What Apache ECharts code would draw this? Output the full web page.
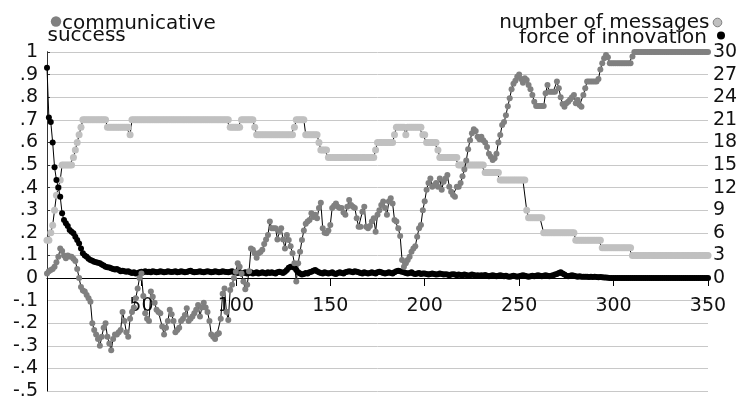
<!DOCTYPE html>
<html>
<head>
<meta charset="utf-8">
<script src="https://cdn.jsdelivr.net/npm/echarts@6/dist/echarts.min.js"></script>
<style>
  html, body { margin: 0; padding: 0; background: #fff; }
  #chart { width: 740px; height: 396px; }
</style>
</head>
<body>
<div id="chart"></div>
<script>
// Tick labels
const xTickLabels = ['', '50', '100', '150', '200', '250', '300', '350'];
const leftTickLabels = ['-.5', '-.4', '-.3', '-.2', '-.1', '0', '.1', '.2', '.3', '.4', '.5', '.6', '.7', '.8', '.9', '1'];

// Communicative success per round (left axis), rounds 0..350
const communicativeSuccess = [
  .02, .03, .035, .04, .05, .07, .094, .13, .12, .10,
  .087, .10, .095, .094, .085, .075, .04, .00, -.04, -.055,
  -.06, -.075, -.09, -.105, -.20, -.23, -.25, -.27, -.30, -.26,
  -.22, -.20, -.26, -.29, -.32, -.27, -.25, -.25, -.24, -.23,
  -.15, -.19, -.24, -.26, -.18, -.15, -.13, -.09, -.046, 0,
  .02, -.08, -.156, -.18, -.19, -.06, -.083, -.11, -.14, -.15,
  -.156, -.215, -.25, -.22, -.19, -.14, -.16, -.19, -.24, -.23,
  -.22, -.19, -.18, -.164, -.134, -.19, -.18, -.17, -.156, -.14,
  -.12, -.17, -.13, -.11, -.13, -.15, -.19, -.25, -.26, -.27,
  -.25, -.245, -.18, -.07, -.046, -.15, -.186, -.053, -.03, 0,
  .028, .065, .05, .02, -.016, -.05, -.03, .03, .13, .125,
  .11, .09, .11, .115, .125, .15, .17, .19, .25, .22,
  .22, .22, .17, .205, .22, .17, .13, .19, .168, .14,
  .11, .065, -.016, .065, .116, .168, .21, .24, .25, .257,
  .286, .27, .28, .264, .31, .333, .22, .20, .198, .21,
  .235, .31, .32, .33, .315, .31, .31, .29, .28, .315,
  .345, .323, .315, .31, .264, .227, .227, .293, .315, .227,
  .22, .23, .25, .264, .205, .28, .30, .323, .338, .31,
  .28, .338, .353, .33, .257, .25, .22, .186, .08, .05,
  .065, .08, .094, .116, .13, .14, .183, .22, .235, .30,
  .34, .39, .42, .44, .404, .41, .42, .404, .44, .39,
  .426, .44, .456, .404, .382, .367, .36, .404, .404, .42,
  .45, .48, .52, .57, .61, .64, .658, .65, .625, .614,
  .625, .61, .60, .58, .55, .537, .522, .53, .55, .60,
  .633, .677, .69, .72, .76, .795, .835, .86, .873, .89,
  .90, .88, .864, .884, .876, .854, .835, .81, .78, .761,
  .761, .761, .761, .761, .817, .854, .824, .824, .824, .824,
  .869, .84, .80, .77, .758, .773, .78, .79, .80, .81,
  .773, .788, .765, .758, .81, .84, .869, .869, .869, .869,
  .869, .869, .88, .923, .95, .972, .987, .977, .95, .95,
  .95, .95, .95, .95, .95, .95, .95, .95, .95, .95,
  .98, 1, 1, 1, 1, 1, 1, 1, 1, 1,
  1, 1, 1, 1, 1, 1, 1, 1, 1, 1,
  1, 1, 1, 1, 1, 1, 1, 1, 1, 1,
  1, 1, 1, 1, 1, 1, 1, 1, 1, 1,
  1
];

// Number of messages per round (right axis)
const numberOfMessages = [
  5, 5, 6, 7, 9, 11, 12, 13, 15, 15,
  15, 15, 15, 15, 16, 17, 18, 19, 20, 21,
  21, 21, 21, 21, 21, 21, 21, 21, 21, 21,
  21, 21, 20, 20, 20, 20, 20, 20, 20, 20,
  20, 20, 20, 20, 19, 21, 21, 21, 21, 21,
  21, 21, 21, 21, 21, 21, 21, 21, 21, 21,
  21, 21, 21, 21, 21, 21, 21, 21, 21, 21,
  21, 21, 21, 21, 21, 21, 21, 21, 21, 21,
  21, 21, 21, 21, 21, 21, 21, 21, 21, 21,
  21, 21, 21, 21, 21, 21, 21, 20, 20, 20,
  20, 20, 20, 21, 21, 21, 21, 21, 21, 21,
  20, 19, 19, 19, 19, 19, 19, 19, 19, 19,
  19, 19, 19, 19, 19, 19, 19, 19, 19, 19,
  19, 20, 21, 21, 21, 21, 21, 19, 19, 19,
  19, 19, 19, 19, 18, 17, 17, 17, 17, 16,
  16, 16, 16, 16, 16, 16, 16, 16, 16, 16,
  16, 16, 16, 16, 16, 16, 16, 16, 16, 16,
  16, 16, 16, 16, 17, 18, 18, 18, 18, 18,
  18, 18, 18, 18, 19, 20, 20, 20, 20, 20,
  19, 20, 20, 20, 20, 20, 20, 20, 20, 19,
  19, 18, 18, 18, 18, 18, 18, 17, 16, 16,
  16, 16, 16, 16, 16, 16, 16, 16, 15, 15,
  15, 15, 15, 15, 15, 15, 15, 15, 15, 15,
  15, 15, 14, 14, 14, 14, 14, 14, 14, 14,
  13, 13, 13, 13, 13, 13, 13, 13, 13, 13,
  13, 13, 13, 13, 9, 8, 8, 8, 8, 8,
  8, 8, 8, 6, 6, 6, 6, 6, 6, 6,
  6, 6, 6, 6, 6, 6, 6, 6, 6, 6,
  5, 5, 5, 5, 5, 5, 5, 5, 5, 5,
  5, 5, 5, 5, 4, 4, 4, 4, 4, 4,
  4, 4, 4, 4, 4, 4, 4, 4, 4, 4,
  3, 3, 3, 3, 3, 3, 3, 3, 3, 3,
  3, 3, 3, 3, 3, 3, 3, 3, 3, 3,
  3, 3, 3, 3, 3, 3, 3, 3, 3, 3,
  3, 3, 3, 3, 3, 3, 3, 3, 3, 3,
  3
];

// Force of innovation per round (left axis)
const forceOfInnovation = [
  .93, .71, .69, .60, .49, .434, .40, .36, .286, .257,
  .242, .23, .212, .205, .198, .183, .168, .153, .131, .11,
  .10, .094, .085, .08, .076, .072, .07, .067, .065, .06,
  .055, .05, .048, .046, .043, .04, .038, .04, .035, .03,
  .032, .03, .028, .03, .025, .022, .025, .02, .022, .025,
  .028, .025, .03, .027, .028, .025, .03, .028, .025, .027,
  .03, .028, .025, .027, .03, .028, .026, .028, .03, .025,
  .027, .03, .028, .025, .027, .03, .032, .028, .025, .027,
  .028, .03, .027, .025, .028, .03, .028, .025, .027, .03,
  .028, .025, .027, .03, .028, .026, .025, .028, .03, .027,
  .025, .022, .025, .02, .022, .025, .02, .022, .025, .02,
  .022, .025, .02, .022, .025, .022, .02, .025, .022, .025,
  .022, .02, .025, .028, .025, .022, .028, .035, .045, .05,
  .05, .045, .035, .025, .02, .015, .018, .022, .02, .025,
  .028, .032, .035, .03, .025, .022, .02, .025, .022, .02,
  .022, .025, .02, .018, .022, .025, .022, .02, .025, .028,
  .03, .028, .025, .03, .028, .025, .022, .02, .025, .022,
  .02, .022, .025, .022, .02, .025, .028, .025, .022, .02,
  .022, .025, .022, .02, .025, .03, .032, .03, .028, .025,
  .022, .02, .022, .025, .02, .018, .02, .022, .018, .02,
  .02, .018, .015, .018, .02, .018, .015, .017, .02, .018,
  .015, .017, .015, .012, .015, .017, .015, .012, .015, .013,
  .012, .015, .013, .01, .012, .015, .013, .01, .012, .01,
  .012, .01, .013, .01, .008, .01, .012, .01, .008, .01,
  .012, .01, .008, .01, .007, .005, .008, .01, .008, .006,
  .008, .01, .012, .01, .008, .006, .008, .01, .008, .01,
  .012, .01, .008, .01, .012, .01, .008, .01, .012, .015,
  .018, .022, .025, .02, .015, .01, .008, .01, .012, .01,
  .008, .006, .008, .006, .005, .006, .005, .004, .005, .004,
  .005, .004, .003, .004, .003, .002, .002, .001, 0, 0,
  0, 0, 0, 0, 0, 0, 0, 0, 0, 0,
  0, 0, 0, 0, 0, 0, 0, 0, 0, 0,
  0, 0, 0, 0, 0, 0, 0, 0, 0, 0,
  0, 0, 0, 0, 0, 0, 0, 0, 0, 0,
  0, 0, 0, 0, 0, 0, 0, 0, 0, 0,
  0
];

const FONT = '"DejaVu Sans", sans-serif';
const TEXT = '#111';
const toPoints = arr => arr.map((v, i) => [i, v]);

// Plot geometry: the left value axis spans -0.5..1 over the full grid height,
// and the round axis sits on its zero line.
const GRID_TOP = 52, GRID_BOTTOM = 5, CHART_H = 396;
const LEFT_MIN = -0.5, LEFT_MAX = 1;
const plotH = CHART_H - GRID_TOP - GRID_BOTTOM;
const zeroFromBottom = plotH * (0 - LEFT_MIN) / (LEFT_MAX - LEFT_MIN);

const chart = echarts.init(document.getElementById('chart'), null, { renderer: 'canvas' });

const lineSeries = (name, values, color, size, axisIdx, z) => ({
  name,
  type: 'line',
  xAxisIndex: axisIdx,
  yAxisIndex: axisIdx,
  data: toPoints(values),
  symbol: 'circle',
  symbolSize: size,
  showSymbol: true,
  showAllSymbol: true,
  itemStyle: { color },
  lineStyle: { color: '#000', width: 1 },
  emphasis: { disabled: true },
  silent: true,
  z
});

chart.setOption({
  animation: false,
  backgroundColor: '#fff',
  grid: [
    { left: 47, right: 32, top: GRID_TOP, bottom: GRID_BOTTOM, containLabel: false, outerBoundsMode: 'none' },
    { left: 47, right: 32, top: GRID_TOP, height: plotH - zeroFromBottom, containLabel: false, outerBoundsMode: 'none' }
  ],
  xAxis: [
    {
      gridIndex: 0, type: 'value', min: 0, max: 350, interval: 50,
      position: 'bottom', offset: -zeroFromBottom,
      axisLine: { onZero: false, lineStyle: { color: '#000', width: 1 } },
      axisTick: { show: true, length: 8, lineStyle: { color: '#000' } },
      axisLabel: {
        fontFamily: FONT, fontSize: 19, color: TEXT, margin: 19,
        formatter: v => xTickLabels[Math.round(v / 50)] || ''
      },
      splitLine: { show: false }
    },
    { gridIndex: 1, type: 'value', min: 0, max: 350, show: false }
  ],
  yAxis: [
    {
      gridIndex: 0, type: 'value', min: LEFT_MIN, max: LEFT_MAX, interval: 0.1,
      axisLine: { show: true, lineStyle: { color: '#000', width: 1 } },
      axisTick: { show: false },
      axisLabel: {
        fontFamily: FONT, fontSize: 19, color: TEXT, margin: 9,
        formatter: v => leftTickLabels[Math.round((v - LEFT_MIN) * 10)]
      },
      splitLine: { show: true, lineStyle: { color: '#c8c8c8', width: 1 } }
    },
    {
      gridIndex: 1, type: 'value', position: 'right', min: 0, max: 30, interval: 3,
      axisLine: { show: true, lineStyle: { color: '#333', width: 1 } },
      axisTick: { show: true, length: 3, lineStyle: { color: '#333' } },
      axisLabel: { fontFamily: FONT, fontSize: 19, color: TEXT, margin: 5 },
      splitLine: { show: false }
    }
  ],
  series: [
    lineSeries('number of messages', numberOfMessages, '#c0c0c0', 7, 1, 2),
    lineSeries('force of innovation', forceOfInnovation, '#000', 6, 0, 3),
    lineSeries('communicative success', communicativeSuccess, '#808080', 6, 0, 4)
  ],
  graphic: [
    { type: 'circle', shape: { cx: 56, cy: 21.5, r: 5.2 }, style: { fill: '#808080' } },
    { type: 'text', style: { text: 'communicative', x: 62, y: 24, font: '20px ' + FONT, fill: TEXT, textAlign: 'left', textVerticalAlign: 'middle' } },
    { type: 'text', style: { text: 'success', x: 47.5, y: 35.5, font: '20px ' + FONT, fill: TEXT, textAlign: 'left', textVerticalAlign: 'middle' } },
    { type: 'text', style: { text: 'number of messages', x: 709.5, y: 23, font: '20px ' + FONT, fill: TEXT, textAlign: 'right', textVerticalAlign: 'middle' } },
    { type: 'circle', shape: { cx: 717.5, cy: 22.5, r: 4.3 }, style: { fill: '#c0c0c0', stroke: '#808080', lineWidth: 1 } },
    { type: 'text', style: { text: 'force of innovation', x: 707, y: 38, font: '20px ' + FONT, fill: TEXT, textAlign: 'right', textVerticalAlign: 'middle' } },
    { type: 'circle', shape: { cx: 721, cy: 35.5, r: 4 }, style: { fill: '#000' } }
  ]
});
</script>
</body>
</html>
